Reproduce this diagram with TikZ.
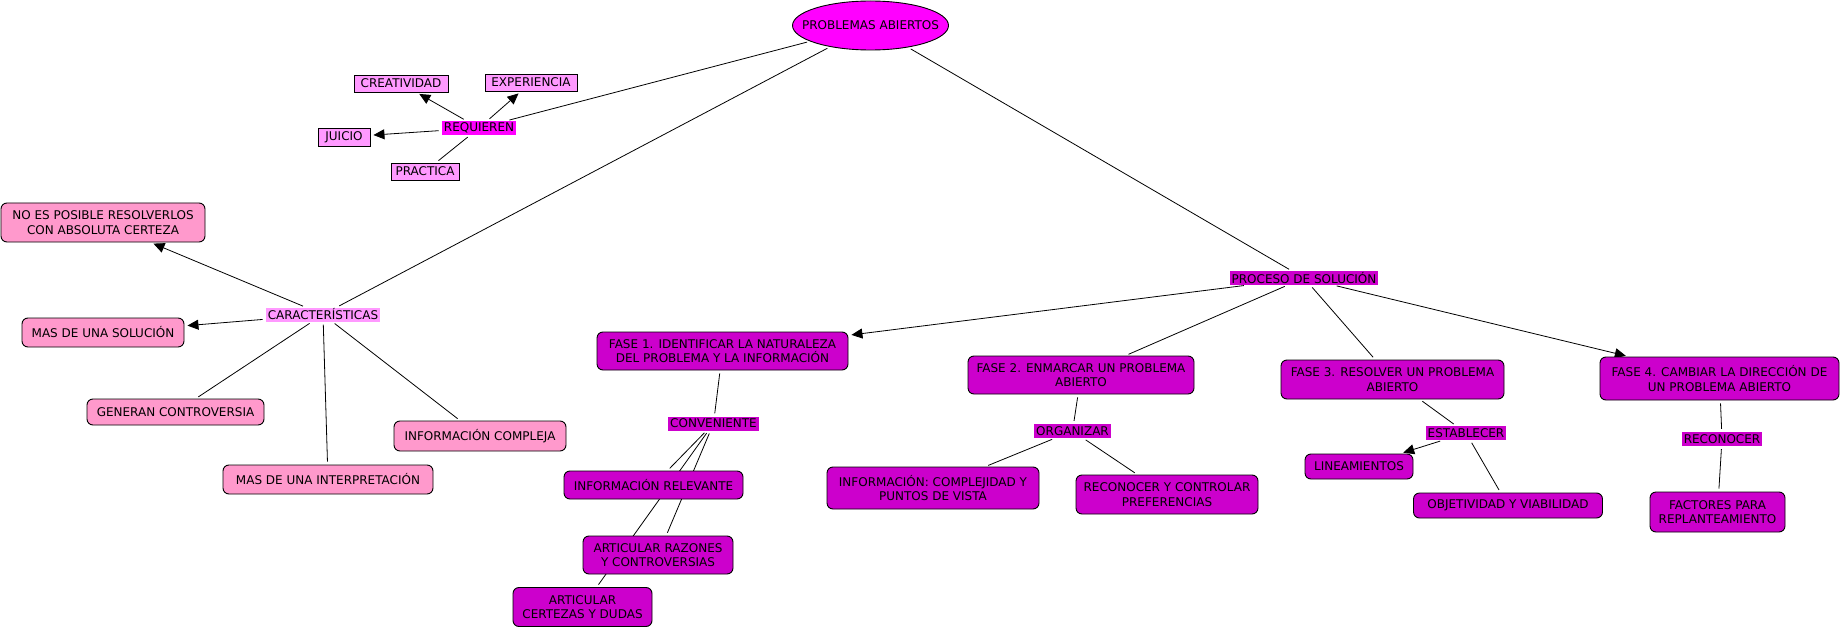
\documentclass[tikz,border=0pt]{standalone}
\usepackage{fontspec}
\setmainfont{DejaVu Sans}
\usetikzlibrary{shapes.geometric,arrows.meta,backgrounds}
\definecolor{magA}{HTML}{FF00FF}
\definecolor{magB}{HTML}{CC00CC}
\definecolor{pinkA}{HTML}{FF99CC}
\definecolor{violA}{HTML}{FF99FF}
\begin{document}
\begin{tikzpicture}[x=1pt,y=-1pt,
  every node/.style={font=\fontsize{12}{14.3}\selectfont, text=black, align=center, inner sep=0pt},
  sz/.style 2 args={minimum width=#1pt, minimum height=#2pt},
  rbox/.style={draw=black, line width=0.9pt, rounded corners=6pt},
  pinkbox/.style={rbox, fill=pinkA},
  fasebox/.style={rbox, fill=magB},
  sqbox/.style={draw=black, line width=0.9pt, fill=violA},
  lnk/.style={fill=#1, minimum height=14pt, inner xsep=2pt},
  conn/.style={draw=black, line width=0.8pt, shorten <=3pt, shorten >=3pt},
  arr/.style={conn, -{Triangle[length=11pt,width=10pt]}}
]
\useasboundingbox (0,0) rectangle (1841,631);

% top
\node[ellipse, draw=black, line width=0.9pt, fill=magA, sz={156}{49}] (pa) at (870.5,25.5) {\makebox[100pt][c]{PROBLEMAS ABIERTOS}};

% REQUIEREN branch
\node[lnk=magA] (req) at (479,128) {REQUIEREN};
\node[sqbox, sz={94}{17}] (creat) at (401,83.5) {CREATIVIDAD};
\node[sqbox, sz={92}{17}] (exper) at (531,82.5) {EXPERIENCIA};
\node[sqbox, sz={52}{18}] (juicio) at (344,137) {JUICIO};
\node[sqbox, sz={68}{17}] (pract) at (425,171.5) {PRACTICA};

% CARACTERISTICAS branch
\node[lnk=violA] (carac) at (323,314.5) {CARACTERÍSTICAS};
\node[pinkbox, sz={204}{39}] (noes) at (103,222.5) {NO ES POSIBLE RESOLVERLOS\\CON ABSOLUTA CERTEZA};
\node[pinkbox, sz={162}{29}] (massol) at (103,332.5) {MAS DE UNA SOLUCIÓN};
\node[pinkbox, sz={177}{26}] (gener) at (175.5,412) {GENERAN CONTROVERSIA};
\node[pinkbox, sz={172}{30}] (infcomp) at (480,436) {INFORMACIÓN COMPLEJA};
\node[pinkbox, sz={210}{29}] (interp) at (328,479.5) {MAS DE UNA INTERPRETACIÓN};

% PROCESO branch
\node[lnk=magB] (proc) at (1304,278) {PROCESO DE SOLUCIÓN};

\node[fasebox, sz={251}{38}] (f1) at (722.5,351) {FASE 1. IDENTIFICAR LA NATURALEZA\\DEL PROBLEMA Y LA INFORMACIÓN};
\node[lnk=magB] (conv) at (713.5,423.5) {CONVENIENTE};
\node[fasebox, sz={179}{28}] (infrel) at (653.5,485) {INFORMACIÓN RELEVANTE};
\node[fasebox, sz={150}{38}] (artraz) at (658,555) {ARTICULAR RAZONES\\Y CONTROVERSIAS};
\node[fasebox, sz={139}{39}] (artcer) at (582.5,607) {ARTICULAR\\CERTEZAS Y DUDAS};

\node[fasebox, sz={226}{38}] (f2) at (1081,375) {FASE 2. ENMARCAR UN PROBLEMA\\ABIERTO};
\node[lnk=magB] (org) at (1072.5,431) {ORGANIZAR};
\node[fasebox, sz={212}{42}] (infpv) at (933,488) {INFORMACIÓN: COMPLEJIDAD Y\\PUNTOS DE VISTA};
\node[fasebox, sz={182}{39}] (recctl) at (1167,494.5) {RECONOCER Y CONTROLAR\\PREFERENCIAS};

\node[fasebox, sz={223}{39}] (f3) at (1392.5,379.5) {FASE 3. RESOLVER UN PROBLEMA\\ABIERTO};
\node[lnk=magB] (estab) at (1466,433) {ESTABLECER};
\node[fasebox, sz={108}{25}] (linea) at (1359,466.5) {LINEAMIENTOS};
\node[fasebox, sz={189}{25}] (objet) at (1508,505.5) {OBJETIVIDAD Y VIABILIDAD};

\node[fasebox, sz={239}{43}] (f4) at (1719.5,378.5) {FASE 4. CAMBIAR LA DIRECCIÓN DE\\UN PROBLEMA ABIERTO};
\node[lnk=magB] (recon) at (1722,439) {RECONOCER};
\node[fasebox, sz={135}{40}] (factor) at (1717.5,512) {FACTORES PARA\\REPLANTEAMIENTO};

\begin{scope}[on background layer]
\draw[conn] (pa) -- (req);
\draw[conn] (pa) -- (carac);
\draw[conn] (pa) -- (proc);

\draw[arr] (req) -- (creat);
\draw[arr] (req) -- (exper);
\draw[arr] (req) -- (juicio);
\draw[conn] (req) -- (pract);

\draw[arr] (carac) -- (noes);
\draw[arr] (carac) -- (massol);
\draw[conn] (carac) -- (gener);
\draw[conn] (carac) -- (interp);
\draw[conn] (carac) -- (infcomp);

\draw[arr] (proc) -- (f1);
\draw[conn] (proc) -- (f2);
\draw[conn] (proc) -- (f3);
\draw[arr] (proc) -- (f4);

\draw[conn] (f1) -- (conv);
\draw[conn] (conv) -- (infrel);
\draw[conn] (conv) -- (artraz);
\draw[conn] (conv) -- (artcer);

\draw[conn] (f2) -- (org);
\draw[conn] (org) -- (infpv);
\draw[conn] (org) -- (recctl);

\draw[conn] (f3) -- (estab);
\draw[arr] (estab) -- (linea);
\draw[conn] (estab) -- (objet);

\draw[conn] (f4) -- (recon);
\draw[conn] (recon) -- (factor);
\end{scope}
\end{tikzpicture}
\end{document}
